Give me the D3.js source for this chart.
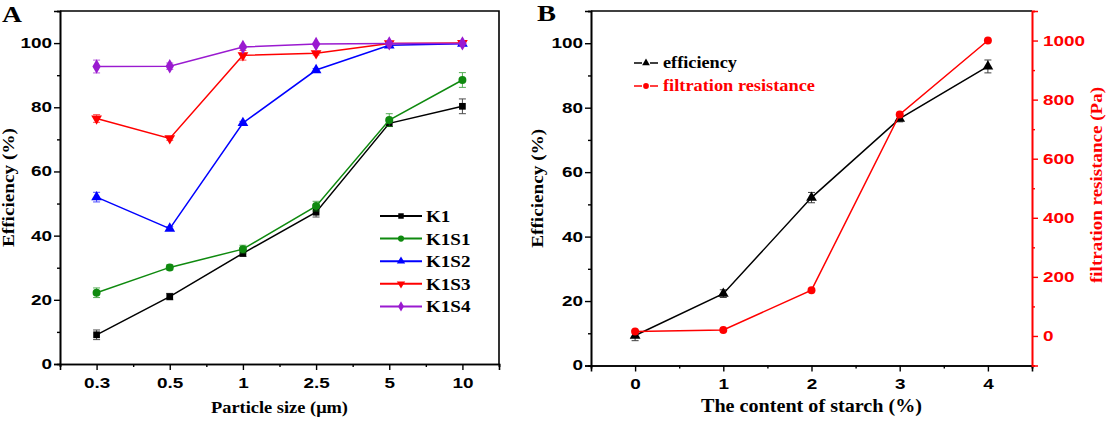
<!DOCTYPE html>
<html>
<head>
<script src="https://cdn.jsdelivr.net/npm/d3@7/dist/d3.min.js"></script>
<style>
html, body { margin: 0; padding: 0; background: #fff; }
svg { display: block; }
.tick text { font-family: "Liberation Sans", Arial, sans-serif; font-weight: bold; font-size: 14px; }
.serif { font-family: "Liberation Serif"; font-weight: bold; }
</style>
</head>
<body>
<div id="chart"></div>
<script>
// panel A data: efficiency (%) vs particle size
var sizes = ["0.3", "0.5", "1", "2.5", "5", "10"];
var k1   = [9.1, 21.0, 34.5, 47.3, 75.0, 80.3];
var k1s1 = [22.2, 30.1, 35.8, 49.2, 76.0, 88.5];
var k1s2 = [52.0, 42.2, 75.1, 91.6, 99.3, 99.8];
var k1s3 = [76.5, 70.3, 96.2, 96.8, 99.9, 100];
var k1s4 = [92.7, 92.8, 98.8, 99.7, 99.9, 99.9];
var k1Err   = [1.5, 1.0, 1.0, 1.5, 1.0, 2.3];
var k1s1Err = [1.5, 0.8, 1.2, 1.5, 2.0, 2.3];
var k1s2Err = [1.5, 0.6, 0.5, 0.5, 0.5, 0.3];
var k1s3Err = [1.2, 0.6, 1.5, 0.5, 0.3, 0.3];
var k1s4Err = [2.0, 1.0, 0.5, 0.3, 0.3, 0.3];
var seriesNames = ["K1", "K1S1", "K1S2", "K1S3", "K1S4"];

// panel B data: vs starch content
var starch = [0, 1, 2, 3, 4];
var effB = [9.3, 22.3, 52.1, 76.6, 92.8];
var effBErr = [1.6, 1.2, 1.6, 1.0, 2.0];
var resist = [15, 20, 155, 750, 1000];

var yTicks = [0, 20, 40, 60, 80, 100];
var rTicks = [0, 200, 400, 600, 800, 1000];

var width = 1106, height = 421;
var svg = d3.select("#chart").append("svg").attr("width", width).attr("height", height);

// stretch text horizontally (reference fonts are wide)
function widen(sel, k) {
    sel.each(function() {
        var w = this.getComputedTextLength();
        d3.select(this).attr("textLength", w * k).attr("lengthAdjust", "spacingAndGlyphs");
    });
}
function fixLen(sel, len) {
    sel.attr("textLength", len).attr("lengthAdjust", "spacingAndGlyphs");
}
function styleAxis(g, color) {
    g.attr("font-family", null).attr("font-size", null);
    g.select(".domain").attr("stroke", color).attr("stroke-width", 1.6);
    g.selectAll(".tick line").attr("stroke", color).attr("stroke-width", 1.4);
    g.selectAll(".tick text").attr("fill", color);
}

var symTypes = {
    square: d3.symbol().type(d3.symbolSquare).size(45),
    circle: d3.symbol().type(d3.symbolCircle).size(50),
    triangle: d3.symbol().type(d3.symbolTriangle).size(50),
    diamond: d3.symbol().type(d3.symbolDiamond).size(60)
};

/* ---------------- Panel A ---------------- */
var A = {left: 60, right: 499, top: 11, bottom: 364};
var xA = d3.scalePoint().domain(sizes).range([A.left, A.right]).padding(0.5);
var xAidx = d3.scaleLinear().domain([-0.5, sizes.length - 0.5]).range([A.left, A.right]);
var yA = d3.scaleLinear().domain([0, 110]).range([A.bottom, A.top]);

var gA = svg.append("g");

// frame top/right
gA.append("path").attr("d", "M" + A.left + "," + A.top + "H" + A.right + "V" + A.bottom)
    .attr("fill", "none").attr("stroke", "#000").attr("stroke-width", 1.6);

var axAyMinor = gA.append("g").attr("transform", "translate(" + A.left + ",0)")
    .call(d3.axisLeft(yA).tickValues([10, 30, 50, 70, 90, 110]).tickSize(3).tickFormat(""));
styleAxis(axAyMinor, "#000");
var axAy = gA.append("g").attr("transform", "translate(" + A.left + ",0)")
    .call(d3.axisLeft(yA).tickValues(yTicks).tickSize(6).tickPadding(2));
styleAxis(axAy, "#000");
widen(axAy.selectAll(".tick text"), 1.35);

var axAxMinor = gA.append("g").attr("transform", "translate(0," + A.bottom + ")")
    .call(d3.axisBottom(xAidx).tickValues(d3.range(-0.5, sizes.length, 1)).tickSize(3).tickFormat(""));
styleAxis(axAxMinor, "#000");
var axAx = gA.append("g").attr("transform", "translate(0," + A.bottom + ")")
    .call(d3.axisBottom(xA).tickSize(6).tickPadding(8));
styleAxis(axAx, "#000");
widen(axAx.selectAll(".tick text"), 1.35);

gA.append("text").attr("class", "serif").attr("x", (A.left + A.right) / 2).attr("y", 413)
    .attr("text-anchor", "middle").attr("font-size", 17).text("Particle size (\u03bcm)")
    .call(fixLen, 137);
gA.append("text").attr("class", "serif")
    .attr("transform", "translate(14," + ((A.top + A.bottom) / 2) + ") rotate(-90)")
    .attr("text-anchor", "middle").attr("font-size", 17).text("Efficiency (%)")
    .call(fixLen, 119);
gA.append("text").attr("class", "serif").attr("x", 2).attr("y", 22)
    .attr("font-size", 23).text("A").call(fixLen, 20);

var seriesA = [
    {name: seriesNames[0], vals: k1,   err: k1Err,   color: "#000000", sym: "square",   rot: 0},
    {name: seriesNames[1], vals: k1s1, err: k1s1Err, color: "#0f8a0f", sym: "circle",   rot: 0},
    {name: seriesNames[2], vals: k1s2, err: k1s2Err, color: "#0000ff", sym: "triangle", rot: 0},
    {name: seriesNames[3], vals: k1s3, err: k1s3Err, color: "#ff0000", sym: "triangle", rot: 180},
    {name: seriesNames[4], vals: k1s4, err: k1s4Err, color: "#9a1ad0", sym: "diamond",  rot: 0}
];

var lineA = d3.line().x(function(d) { return xA(d.x); }).y(function(d) { return yA(d.y); });

seriesA.forEach(function(s) {
    var pts = sizes.map(function(c, i) { return {x: c, y: s.vals[i], e: s.err[i]}; });
    var g = gA.append("g");
    g.append("path").datum(pts).attr("d", lineA).attr("fill", "none")
        .attr("stroke", s.color).attr("stroke-width", 1.5);
    var eb = g.selectAll(".eb").data(pts).enter().append("g").attr("stroke", s.color).attr("stroke-width", 1).attr("opacity", 0.7);
    eb.append("line").attr("x1", function(d) { return xA(d.x); }).attr("x2", function(d) { return xA(d.x); })
        .attr("y1", function(d) { return yA(d.y - d.e); }).attr("y2", function(d) { return yA(d.y + d.e); });
    [-1, 1].forEach(function(sg) {
        eb.append("line").attr("x1", function(d) { return xA(d.x) - 3.5; }).attr("x2", function(d) { return xA(d.x) + 3.5; })
            .attr("y1", function(d) { return yA(d.y + sg * d.e); }).attr("y2", function(d) { return yA(d.y + sg * d.e); });
    });
    g.selectAll(".m").data(pts).enter().append("path")
        .attr("d", symTypes[s.sym])
        .attr("fill", s.color)
        .attr("transform", function(d) { return "translate(" + xA(d.x) + "," + yA(d.y) + ") rotate(" + s.rot + ")"; });
});

// legend A
var legA = gA.append("g");
seriesA.forEach(function(s, i) {
    var y = 216 + i * 22.6;
    legA.append("line").attr("x1", 380).attr("x2", 422).attr("y1", y).attr("y2", y)
        .attr("stroke", s.color).attr("stroke-width", 2);
    legA.append("path").attr("d", d3.symbol().type(
            s.sym === "square" ? d3.symbolSquare : s.sym === "circle" ? d3.symbolCircle :
            s.sym === "triangle" ? d3.symbolTriangle : d3.symbolDiamond).size(30))
        .attr("fill", s.color)
        .attr("transform", "translate(401," + y + ") rotate(" + s.rot + ")");
    legA.append("text").attr("class", "serif").attr("x", 426).attr("y", y + 6)
        .attr("font-size", 17).attr("fill", "#000").text(s.name).call(widen, 1.12);
});

/* ---------------- Panel B ---------------- */
var B = {left: 591, right: 1032, top: 11, bottom: 365.5};
var xB = d3.scaleLinear().domain([-0.5, 4.5]).range([B.left, B.right]);
var yB = d3.scaleLinear().domain([0, 110]).range([B.bottom, B.top]);
var rB = d3.scaleLinear().domain([-100, 1100]).range([B.bottom, B.top]);

var gB = svg.append("g");
gB.append("line").attr("x1", B.left).attr("x2", B.right).attr("y1", B.top).attr("y2", B.top)
    .attr("stroke", "#000").attr("stroke-width", 1.6);

var axByMinor = gB.append("g").attr("transform", "translate(" + B.left + ",0)")
    .call(d3.axisLeft(yB).tickValues([10, 30, 50, 70, 90, 110]).tickSize(3).tickFormat(""));
styleAxis(axByMinor, "#000");
var axBy = gB.append("g").attr("transform", "translate(" + B.left + ",0)")
    .call(d3.axisLeft(yB).tickValues(yTicks).tickSize(6).tickPadding(2));
styleAxis(axBy, "#000");
widen(axBy.selectAll(".tick text"), 1.35);

var axBxMinor = gB.append("g").attr("transform", "translate(0," + B.bottom + ")")
    .call(d3.axisBottom(xB).tickValues(d3.range(-0.5, 5, 1)).tickSize(3).tickFormat(""));
styleAxis(axBxMinor, "#000");
var axBx = gB.append("g").attr("transform", "translate(0," + B.bottom + ")")
    .call(d3.axisBottom(xB).tickValues(starch).tickSize(6).tickPadding(8).tickFormat(d3.format("d")));
styleAxis(axBx, "#000");
widen(axBx.selectAll(".tick text"), 1.35);

var axBrMinor = gB.append("g").attr("transform", "translate(" + B.right + ",0)")
    .call(d3.axisRight(rB).tickValues(d3.range(-100, 1101, 200)).tickSize(3).tickFormat(""));
styleAxis(axBrMinor, "#ff0000");
var axBr = gB.append("g").attr("transform", "translate(" + B.right + ",0)")
    .call(d3.axisRight(rB).tickValues(rTicks).tickSize(6).tickPadding(5).tickFormat(d3.format("d")));
styleAxis(axBr, "#ff0000");
widen(axBr.selectAll(".tick text"), 1.35);

gB.append("text").attr("class", "serif").attr("x", (B.left + B.right) / 2).attr("y", 412)
    .attr("text-anchor", "middle").attr("font-size", 18).text("The content of starch (%)")
    .call(fixLen, 221);
gB.append("text").attr("class", "serif")
    .attr("transform", "translate(543," + ((B.top + B.bottom) / 2) + ") rotate(-90)")
    .attr("text-anchor", "middle").attr("font-size", 17).text("Efficiency (%)")
    .call(fixLen, 119);
gB.append("text").attr("class", "serif")
    .attr("transform", "translate(1102,185) rotate(-90)")
    .attr("text-anchor", "middle").attr("font-size", 17).attr("fill", "#ff0000")
    .text("filtration resistance (Pa)").call(fixLen, 196);
gB.append("text").attr("class", "serif").attr("x", 537).attr("y", 21)
    .attr("font-size", 23).text("B").call(fixLen, 19);

// efficiency line
var effPts = starch.map(function(s, i) { return {x: s, y: effB[i], e: effBErr[i]}; });
var gE = gB.append("g");
gE.append("path").datum(effPts)
    .attr("d", d3.line().x(function(d) { return xB(d.x); }).y(function(d) { return yB(d.y); }))
    .attr("fill", "none").attr("stroke", "#000").attr("stroke-width", 1.5);
var ebB = gE.selectAll(".eb").data(effPts).enter().append("g").attr("stroke", "#000").attr("stroke-width", 1).attr("opacity", 0.75);
ebB.append("line").attr("x1", function(d) { return xB(d.x); }).attr("x2", function(d) { return xB(d.x); })
    .attr("y1", function(d) { return yB(d.y - d.e); }).attr("y2", function(d) { return yB(d.y + d.e); });
[-1, 1].forEach(function(sg) {
    ebB.append("line").attr("x1", function(d) { return xB(d.x) - 3.5; }).attr("x2", function(d) { return xB(d.x) + 3.5; })
        .attr("y1", function(d) { return yB(d.y + sg * d.e); }).attr("y2", function(d) { return yB(d.y + sg * d.e); });
});
gE.selectAll(".m").data(effPts).enter().append("path")
    .attr("d", symTypes.triangle).attr("fill", "#000")
    .attr("transform", function(d) { return "translate(" + xB(d.x) + "," + yB(d.y) + ")"; });

// resistance line
var resPts = starch.map(function(s, i) { return {x: s, y: resist[i]}; });
var gR = gB.append("g");
gR.append("path").datum(resPts)
    .attr("d", d3.line().x(function(d) { return xB(d.x); }).y(function(d) { return rB(d.y); }))
    .attr("fill", "none").attr("stroke", "#ff0000").attr("stroke-width", 1.5);
gR.selectAll(".m").data(resPts).enter().append("path")
    .attr("d", symTypes.circle).attr("fill", "#ff0000")
    .attr("transform", function(d) { return "translate(" + xB(d.x) + "," + rB(d.y) + ")"; });

// legend B
var legB = [
    {label: "efficiency", color: "#000", sym: d3.symbolTriangle, y: 63},
    {label: "filtration resistance", color: "#ff0000", sym: d3.symbolCircle, y: 86}
];
legB.forEach(function(l) {
    gB.append("line").attr("x1", 634).attr("x2", 642).attr("y1", l.y).attr("y2", l.y)
        .attr("stroke", l.color).attr("stroke-width", 1.5);
    gB.append("line").attr("x1", 650).attr("x2", 658).attr("y1", l.y).attr("y2", l.y)
        .attr("stroke", l.color).attr("stroke-width", 1.5);
    gB.append("path").attr("d", d3.symbol().type(l.sym).size(26)).attr("fill", l.color)
        .attr("transform", "translate(646," + l.y + ")");
    gB.append("text").attr("class", "serif").attr("x", 663).attr("y", l.y + 5)
        .attr("font-size", 17).attr("fill", l.color).text(l.label).call(fixLen, l.label.length > 12 ? 152 : 74);
});
</script>
</body>
</html>
